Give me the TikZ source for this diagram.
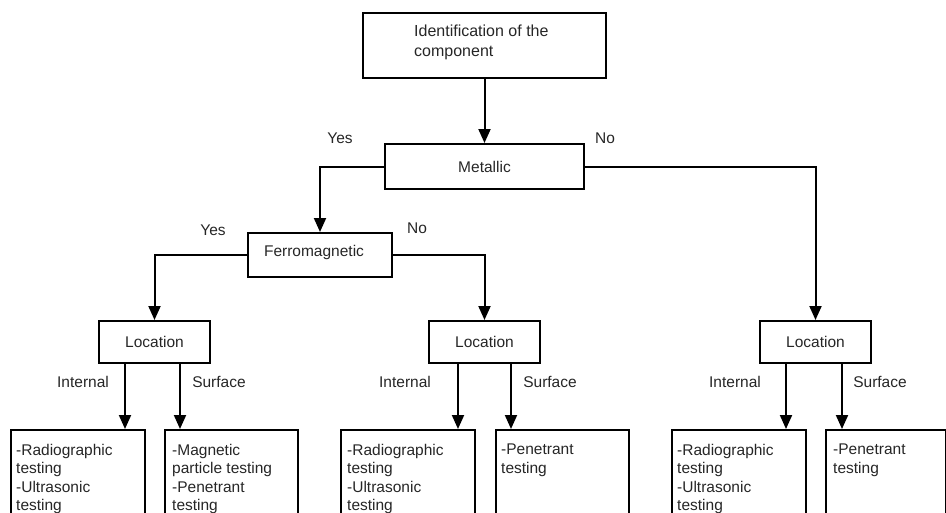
\documentclass[tikz,border=0pt]{standalone}
\usepackage{fontspec}
\setmainfont{Liberation Sans}
\usetikzlibrary{arrows.meta}
\begin{document}
\begin{tikzpicture}[x=1pt,y=-1pt,
  box/.style={draw, line width=2pt, inner sep=0pt, anchor=north west,
    font=\fontsize{15.5}{18.5}\selectfont, text=black!85},
  lbl/.style={font=\fontsize{15.5}{18.5}\selectfont, inner sep=0pt, text=black!85},
  txt/.style={font=\fontsize{15.5}{18.5}\selectfont, inner sep=0pt,
    anchor=north west, align=left, text=black!85},
  arr/.style={line width=2pt, -{Triangle[length=14pt,width=12pt]}}]
\useasboundingbox (0,0) rectangle (946,512);
\clip (0,0) rectangle (946,512);

% boxes
\node[box, minimum width=243pt, minimum height=65pt] (top) at (362,12) {};
\node[txt, font=\fontsize{16}{20}\selectfont] (toptxt) at (414,25) {Identification of the\\component};
\node[box, minimum width=199pt, minimum height=45pt] (met) at (384,143) {Metallic};
\node[box, minimum width=144pt, minimum height=44pt] (fer) at (247,232) {};
\node[lbl] (fertxt) at (314,252) {Ferromagnetic};
\node[box, minimum width=111pt, minimum height=42pt] (L1) at (98,320) {Location};
\node[box, minimum width=111pt, minimum height=42pt] (L2) at (428,320) {Location};
\node[box, minimum width=111pt, minimum height=42pt] (L3) at (759,320) {Location};

\node[box, minimum width=134pt, minimum height=110pt] (B1) at (10,429) {};
\node[box, minimum width=133pt, minimum height=110pt] (B2) at (164,429) {};
\node[box, minimum width=134pt, minimum height=110pt] (B3) at (340,429) {};
\node[box, minimum width=133pt, minimum height=110pt] (B4) at (495,429) {};
\node[box, minimum width=134pt, minimum height=110pt] (B5) at (671,429) {};
\node[box, minimum width=120pt, minimum height=110pt] (B6) at (825,429) {};

\node[txt] (T1) at (16,444) {-Radiographic\\testing\\-Ultrasonic\\testing};
\node[txt] (T2) at (172,444) {-Magnetic\\particle testing\\-Penetrant\\testing};
\node[txt] (T3) at (347,444) {-Radiographic\\testing\\-Ultrasonic\\testing};
\node[txt] (T4) at (501,444) {-Penetrant\\testing};
\node[txt] (T5) at (677,444) {-Radiographic\\testing\\-Ultrasonic\\testing};
\node[txt] (T6) at (833,444) {-Penetrant\\testing};

% labels
\node[lbl] (y1) at (340,138) {Yes};
\node[lbl] (n1) at (605,138) {No};
\node[lbl] (y2) at (213,230) {Yes};
\node[lbl] (n2) at (417,228) {No};
\node[lbl] (i1) at (83,382) {Internal};
\node[lbl] (s1) at (219,382) {Surface};
\node[lbl] (i2) at (405,382) {Internal};
\node[lbl] (s2) at (550,382) {Surface};
\node[lbl] (i3) at (735,382) {Internal};
\node[lbl] (s3) at (880,382) {Surface};

% connectors
\draw[arr] (top.south) -- (met.north);
\draw[arr] (met.west) -| (fer.north);
\draw[arr] (met.east) -| (L3.north);
\draw[arr] (fer.west) -| (L1.north);
\draw[arr] (fer.east) -| (L2.north);

\coordinate (a1) at (125,400);
\coordinate (a2) at (180,400);
\coordinate (a3) at (458,400);
\coordinate (a4) at (511,400);
\coordinate (a5) at (786,400);
\coordinate (a6) at (842,400);
\draw[arr] (L1.south -| a1) -- (B1.north -| a1);
\draw[arr] (L1.south -| a2) -- (B2.north -| a2);
\draw[arr] (L2.south -| a3) -- (B3.north -| a3);
\draw[arr] (L2.south -| a4) -- (B4.north -| a4);
\draw[arr] (L3.south -| a5) -- (B5.north -| a5);
\draw[arr] (L3.south -| a6) -- (B6.north -| a6);
\end{tikzpicture}
\end{document}
